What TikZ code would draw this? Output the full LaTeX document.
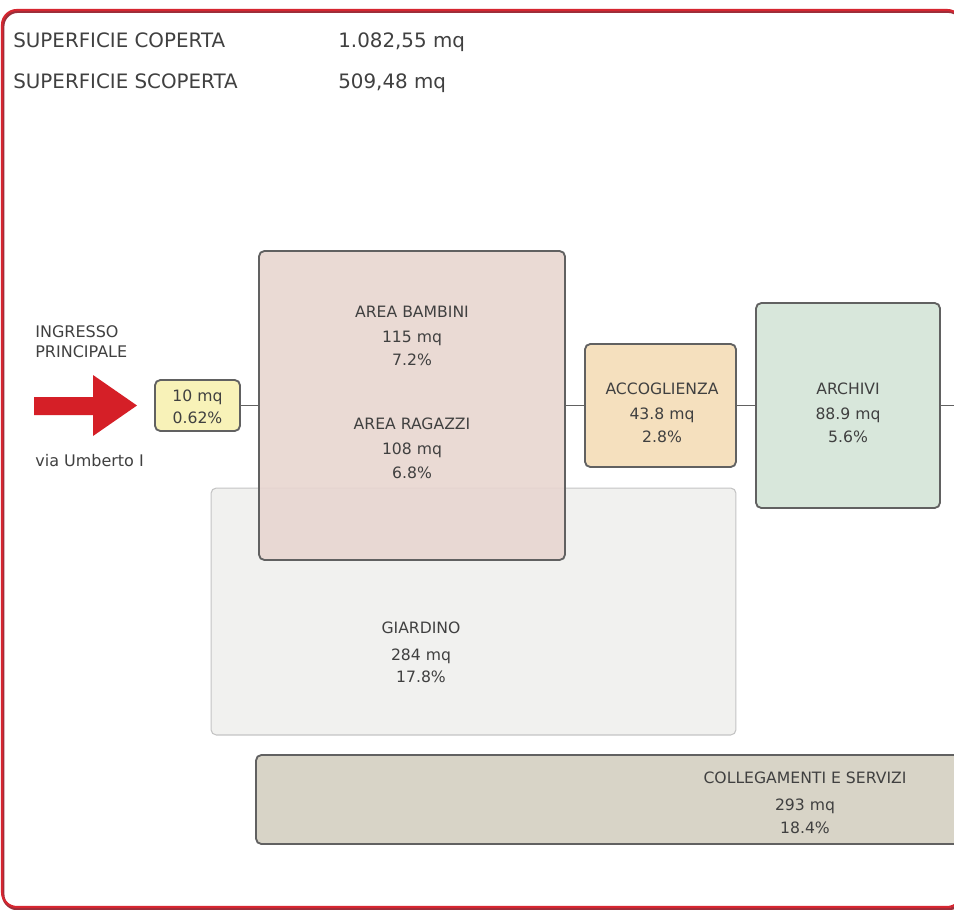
\documentclass[tikz,border=0pt]{standalone}
\usepackage{fontspec}
\setmainfont{DejaVu Sans}
\definecolor{txt}{HTML}{404040}
\definecolor{boxline}{HTML}{616161}
\definecolor{yelfill}{HTML}{F8F2B8}
\definecolor{pinkfill}{HTML}{E8D6D0}
\definecolor{accfill}{HTML}{F5E0BE}
\definecolor{arcfill}{HTML}{D8E7DB}
\definecolor{gardfill}{HTML}{F1F1EF}
\definecolor{gardline}{HTML}{C4C4C4}
\definecolor{colfill}{HTML}{D8D4C7}
\definecolor{framered}{HTML}{D62630}
\definecolor{frameshadow}{HTML}{9C2E3A}
\definecolor{arrowred}{HTML}{D51F27}
\begin{document}
\begin{tikzpicture}[x=0.02cm,y=-0.02cm,
  area/.style={draw=boxline, line width=1.05pt, rounded corners=3pt, inner sep=0pt},
  conn/.style={draw=boxline, line width=1pt},
  boxtxt/.style={text=txt, inner sep=0pt, anchor=base, font=\fontsize{8.9}{10}\selectfont},
  headtxt/.style={text=txt, inner sep=0pt, anchor=base west, font=\fontsize{11.3}{13}\selectfont},
  sidetxt/.style={text=txt, inner sep=0pt, anchor=base west, font=\fontsize{9.1}{11}\selectfont}]
\useasboundingbox (0,0) rectangle (954,910);
\clip (0,0) rectangle (954,910);
\fill[white] (0,0) rectangle (954,910);
% frame
\draw[frameshadow, line width=1.6pt, rounded corners=8.5pt] (3,11.5) rectangle (963,909);
\draw[framered, line width=1.2pt, rounded corners=8.5pt] (2,10) rectangle (962,907);
% header
\node[headtxt] (h1) at (13,47) {SUPERFICIE COPERTA};
\node[headtxt] (v1) at (338,47) {1.082,55 mq};
\node[headtxt] (h2) at (13,88) {SUPERFICIE SCOPERTA};
\node[headtxt] (v2) at (338,88) {509,48 mq};
% side labels
\node[sidetxt] (ing1) at (35,337) {INGRESSO};
\node[sidetxt] (ing2) at (35,357) {PRINCIPALE};
\node[sidetxt] (via) at (35,466) {via Umberto I};
% red arrow
\fill[arrowred] (34,397) -- (93,397) -- (93,375) -- (137,405.5) -- (93,436) -- (93,415) -- (34,415) -- cycle;
% boxes
\node[area, fill=gardfill, draw=gardline, line width=0.6pt, minimum width=10.5cm, minimum height=4.94cm] (gard) at (473.5,611.5) {};
\node[area, fill=yelfill, minimum width=1.70cm, minimum height=1.02cm] (yel) at (197.5,405.5) {};
\node[area, fill=pinkfill, fill opacity=0.9, minimum width=6.12cm, minimum height=6.18cm] (pink) at (412,405.5) {};
\node[area, fill=accfill, minimum width=3.02cm, minimum height=2.46cm] (acc) at (660.5,405.5) {};
\node[area, fill=arcfill, minimum width=3.68cm, minimum height=4.10cm] (arc) at (848,405.5) {};
\node[area, fill=colfill, minimum width=14.28cm, minimum height=1.78cm] (col) at (613,799.5) {};
\coordinate (rend) at (962,405.5);
% connectors
\draw[conn] (yel.east) -- (pink.west);
\draw[conn] (pink.east) -- (acc.west);
\draw[conn] (acc.east) -- (arc.west);
\draw[conn] (arc.east) -- (rend);
% texts
\node[boxtxt] (t1a) at (197.5,401) {10 mq};
\node[boxtxt] (t1b) at (197.5,423) {0.62\%};
\node[boxtxt] (t2a) at (412,317) {AREA BAMBINI};
\node[boxtxt] (t2b) at (412,342) {115 mq};
\node[boxtxt] (t2c) at (412,365) {7.2\%};
\node[boxtxt] (t3a) at (412,429) {AREA RAGAZZI};
\node[boxtxt] (t3b) at (412,454) {108 mq};
\node[boxtxt] (t3c) at (412,478) {6.8\%};
\node[boxtxt] (t4a) at (662,394) {ACCOGLIENZA};
\node[boxtxt] (t4b) at (662,419) {43.8 mq};
\node[boxtxt] (t4c) at (662,442) {2.8\%};
\node[boxtxt] (t5a) at (848,394) {ARCHIVI};
\node[boxtxt] (t5b) at (848,419) {88.9 mq};
\node[boxtxt] (t5c) at (848,442) {5.6\%};
\node[boxtxt] (t6a) at (421,633) {GIARDINO};
\node[boxtxt] (t6b) at (421,660) {284 mq};
\node[boxtxt] (t6c) at (421,682) {17.8\%};
\node[boxtxt] (t7a) at (805,783) {COLLEGAMENTI E SERVIZI};
\node[boxtxt] (t7b) at (805,810) {293 mq};
\node[boxtxt] (t7c) at (805,833) {18.4\%};
\end{tikzpicture}
\end{document}
